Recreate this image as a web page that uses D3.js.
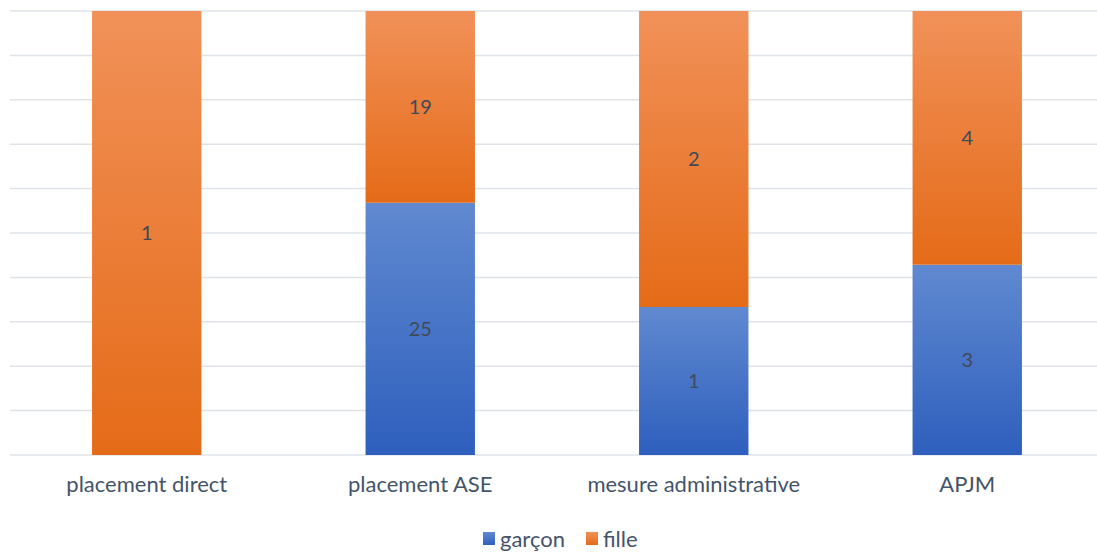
<!DOCTYPE html>
<html>
<head>
<meta charset="utf-8">
<script src="https://cdn.jsdelivr.net/npm/d3@7"></script>
<style>
  body { margin: 0; background: #fff; }
  svg { display: block; font-family: Lato, "Open Sans", sans-serif; }
</style>
</head>
<body>
<div id="chart"></div>
<script>
const categories = ["placement direct", "placement ASE", "mesure administrative", "APJM"];
const garcon = [0, 25, 1, 3];
const fille = [1, 19, 2, 4];
const seriesNames = ["garçon", "fille"];
const yTicks = d3.range(0, 1.0001, 0.1);

const width = 1097, height = 553;
const margin = { top: 11, right: -7, bottom: 98, left: 10 };
const innerW = width - margin.left - margin.right;
const innerH = height - margin.top - margin.bottom;

const svg = d3.select("#chart").append("svg")
    .attr("width", width)
    .attr("height", height);

const defs = svg.append("defs");
function addGrad(id, top, bottom) {
    const g = defs.append("linearGradient").attr("id", id)
        .attr("x1", 0).attr("y1", 0).attr("x2", 0).attr("y2", 1);
    g.append("stop").attr("offset", "0%").attr("stop-color", top);
    g.append("stop").attr("offset", "100%").attr("stop-color", bottom);
}
addGrad("gBlue", "#6089d0", "#2e5fbd");
addGrad("gOrange", "#f19159", "#e56b18");
const fills = ["url(#gBlue)", "url(#gOrange)"];

const plot = svg.append("g").attr("transform", `translate(${margin.left},${margin.top})`);

const x = d3.scaleBand().domain(categories).range([0, innerW]).paddingInner(0.6).paddingOuter(0.3);
const y = d3.scaleLinear().domain([0, 1]).range([innerH, 0]);

// gridlines
plot.selectAll(".grid").data(yTicks).enter().append("line")
    .attr("x1", 0).attr("x2", innerW)
    .attr("y1", d => y(d)).attr("y2", d => y(d))
    .attr("stroke", "#dfe3e8").attr("stroke-width", 1.5);

// stacked 100%
const rows = categories.map((c, i) => {
    const tot = garcon[i] + fille[i];
    return { cat: c, "garçon": garcon[i] / tot, "fille": fille[i] / tot, raw: [garcon[i], fille[i]] };
});
const stack = d3.stack().keys(seriesNames)(rows);

stack.forEach((layer, si) => {
    const g = plot.append("g");
    g.selectAll("rect").data(layer).enter().append("rect")
        .attr("x", d => x(d.data.cat))
        .attr("width", x.bandwidth())
        .attr("y", d => y(d[1]))
        .attr("height", d => y(d[0]) - y(d[1]))
        .attr("fill", fills[si]);
    g.selectAll("text").data(layer.filter(d => d.data.raw[si] > 0)).enter().append("text")
        .attr("x", d => x(d.data.cat) + x.bandwidth() / 2)
        .attr("y", d => (y(d[0]) + y(d[1])) / 2)
        .attr("dy", "0.35em")
        .attr("text-anchor", "middle")
        .attr("font-size", 20)
        .attr("fill", "#404a57")
        .text(d => d.data.raw[si]);
});

// x axis labels
const xAxis = d3.axisBottom(x).tickSize(0).tickPadding(21);
const ax = plot.append("g").attr("transform", `translate(0,${innerH})`).call(xAxis);
ax.select(".domain").remove();
ax.selectAll("text").attr("font-size", 22).attr("fill", "#44546a")
    .style("font-family", "Lato, 'Open Sans', sans-serif");

// legend
const legend = svg.append("g").attr("transform", "translate(483,539)");
const items = [{ name: "garçon", x: 0 }, { name: "fille", x: 103 }];
items.forEach((it, i) => {
    legend.append("rect").attr("x", it.x).attr("y", -7).attr("width", 12).attr("height", 13)
        .attr("fill", fills[i]);
    legend.append("text").attr("x", it.x + 17).attr("y", 0).attr("dy", "0.35em")
        .attr("font-size", 22).attr("fill", "#44546a").text(it.name);
});
</script>
</body>
</html>
